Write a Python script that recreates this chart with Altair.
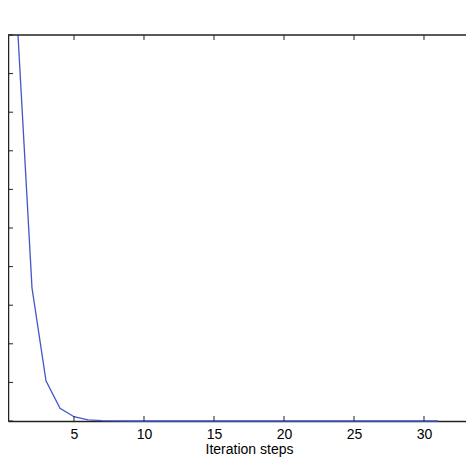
import altair as alt
import pandas as pd

# convergence curve
steps = list(range(1, 32))
values = [10.0, 3.45, 1.04, 0.33, 0.11, 0.03, 0.01, 0.003] + [0.0] * 23

x_ticks = [0, 5, 10, 15, 20, 25, 30, 35]
y_ticks = [0, 1, 2, 3, 4, 5, 6, 7, 8, 9, 10]

df = pd.DataFrame({"step": steps, "value": values})
xt = pd.DataFrame({"t": x_ticks})
yt = pd.DataFrame({"t": y_ticks})

W, H = 458, 386
FRAME = "#222"
# the figure is cropped: x=0 sits just left of the visible area
x_scale = alt.Scale(domain=[0.286, 33.0], nice=False, zero=False)
y_scale = alt.Scale(domain=[0, 10], nice=False)

# same axis objects in every layer so the merged axes stay clean
x_axis = alt.Axis(values=x_ticks, ticks=False, grid=False,
                  domainColor=FRAME, domainWidth=1.5, zindex=0,
                  labelPadding=6, titlePadding=1, labelFlush=False,
                  titleX=241)
y_axis = alt.Axis(labels=False, ticks=False, grid=False,
                  domainColor=FRAME, domainWidth=1.5, zindex=0)

line = alt.Chart(df).mark_line(color="#4257c9", strokeWidth=1.3).encode(
    x=alt.X("step:Q", scale=x_scale, axis=x_axis, title="Iteration steps"),
    y=alt.Y("value:Q", scale=y_scale, axis=y_axis, title=None),
)

# inward tick marks and the top edge of the box (MATLAB style)
bottom_ticks = alt.Chart(xt).mark_rule(color=FRAME).encode(
    x=alt.X("t:Q", scale=x_scale, axis=x_axis, title="Iteration steps"),
    y=alt.value(H), y2=alt.value(H - 5))
top_ticks = alt.Chart(xt).mark_rule(color=FRAME).encode(
    x=alt.X("t:Q", scale=x_scale, axis=x_axis, title="Iteration steps"),
    y=alt.value(0), y2=alt.value(5))
left_ticks = alt.Chart(yt).mark_rule(color=FRAME).encode(
    y=alt.Y("t:Q", scale=y_scale, axis=y_axis, title=None),
    x=alt.value(0), x2=alt.value(5))
top_edge = alt.Chart(pd.DataFrame({"t": [0]})).mark_rule(
    color=FRAME, strokeWidth=1.5).encode(
    y=alt.value(0), x=alt.value(0), x2=alt.value(W))

chart = alt.layer(line, bottom_ticks, top_ticks, left_ticks, top_edge).properties(
    width=W, height=H,
    autosize=alt.AutoSizeParams(type="none"),
    padding={"left": 0, "top": 27, "right": 0, "bottom": 37},
).configure_view(
    stroke=None, strokeWidth=0
).configure_axis(
    labelFont="Liberation Sans", titleFont="Liberation Sans",
    labelFontSize=14, titleFontSize=14, titleFontWeight="normal",
    labelColor="#000", titleColor="#000",
)

chart.save("out.html", embed_options={"renderer": "svg", "actions": False})
